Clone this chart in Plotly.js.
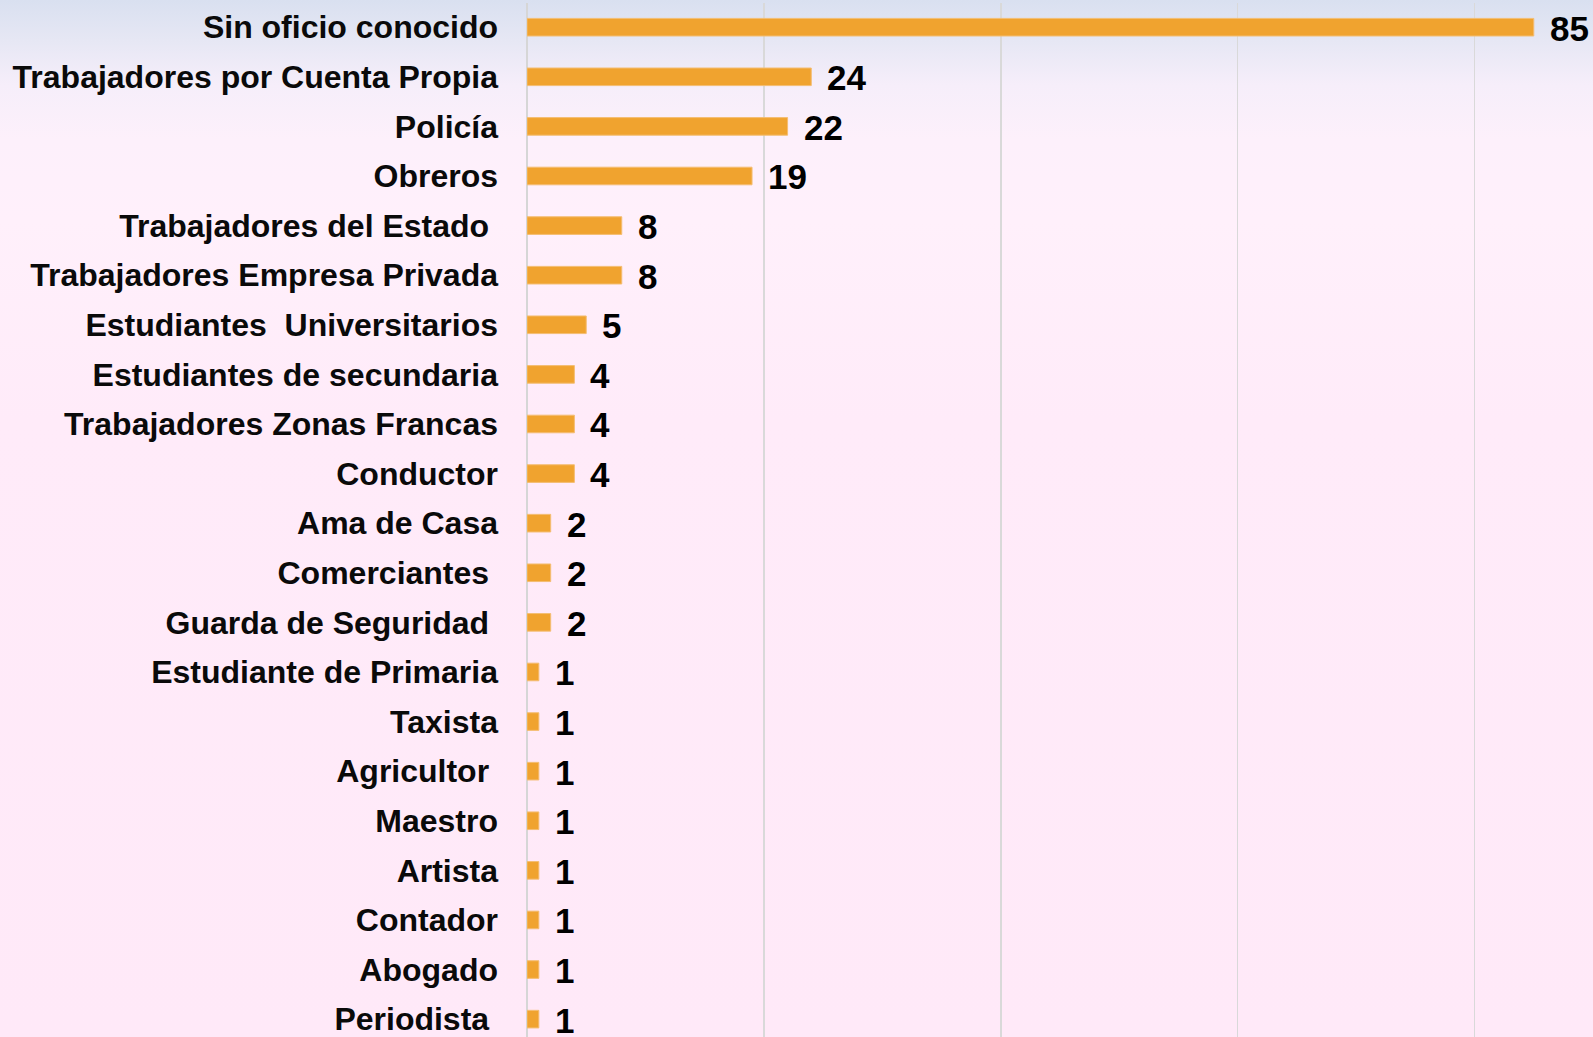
<!DOCTYPE html>
<html>
<head>
<meta charset="utf-8">
<script src="https://cdn.plot.ly/plotly-3.0.1.min.js"></script>
<style>
  html, body { margin: 0; padding: 0; width: 1593px; height: 1037px; overflow: hidden; }
  body {
    background: linear-gradient(to bottom, #d9e0f0 0px, #e6e7f4 40px, #f6eefa 85px, #fdf0fb 140px, #fff0fb 220px, #ffebf9 420px, #ffe9f8 1037px);
  }
  #chart { width: 1593px; height: 1037px; }
</style>
</head>
<body>
<div id="chart"></div>
<script>
// Categories, top to bottom as shown
const categories = [
  'Sin oficio conocido',
  'Trabajadores por Cuenta Propia',
  'Policía',
  'Obreros',
  'Trabajadores del Estado ',
  'Trabajadores Empresa Privada',
  'Estudiantes  Universitarios',
  'Estudiantes de secundaria',
  'Trabajadores Zonas Francas',
  'Conductor',
  'Ama de Casa',
  'Comerciantes ',
  'Guarda de Seguridad ',
  'Estudiante de Primaria',
  'Taxista',
  'Agricultor ',
  'Maestro',
  'Artista',
  'Contador',
  'Abogado',
  'Periodista '
];
const values = [85, 24, 22, 19, 8, 8, 5, 4, 4, 4, 2, 2, 2, 1, 1, 1, 1, 1, 1, 1, 1];

// Preserve trailing / doubled spaces in displayed labels
const tickText = categories.map(c =>
  c.replace(/ +$/, m => '\u00a0'.repeat(m.length)).replace(/  /g, ' \u00a0')
);

const FONT = 'Liberation Sans, Arial, Helvetica, sans-serif';

const trace = {
  type: 'bar',
  orientation: 'h',
  x: values,
  y: categories,
  width: 0.355,
  marker: { color: '#f0a32f', line: { color: '#f4bd72', width: 1 } },
  hoverinfo: 'x+y'
};

const annotations = values.map((v, i) => ({
  x: v,
  y: categories[i],
  xref: 'x',
  yref: 'y',
  text: String(v),
  showarrow: false,
  xanchor: 'left',
  yanchor: 'middle',
  xshift: 14,
  yshift: -1,
  font: { family: FONT, size: 35, color: '#000', weight: 'bold' }
}));

const layout = {
  width: 1593,
  height: 1037,
  margin: { l: 527, r: 0, t: 3, b: 0, pad: 0 },
  paper_bgcolor: 'rgba(0,0,0,0)',
  plot_bgcolor: 'rgba(0,0,0,0)',
  showlegend: false,
  bargap: 0.64,
  xaxis: {
    range: [0, 90],
    dtick: 20,
    tick0: 0,
    showgrid: true,
    gridcolor: '#d9d9d9',
    gridwidth: 1.5,
    zeroline: true,
    zerolinecolor: '#d6d6d6',
    zerolinewidth: 2,
    showticklabels: false,
    ticks: '',
    fixedrange: true
  },
  yaxis: {
    type: 'category',
    categoryorder: 'array',
    categoryarray: categories,
    tickvals: categories,
    ticktext: tickText,
    range: [20.36, -0.488],
    showgrid: false,
    zeroline: false,
    ticks: '',
    ticklabelstandoff: 28,
    tickfont: { family: FONT, size: 32, color: '#0a0a0a', weight: 'bold' },
    automargin: false,
    fixedrange: true
  },
  annotations: annotations
};

Plotly.newPlot('chart', [trace], layout, { displayModeBar: false, staticPlot: true });
</script>
</body>
</html>
